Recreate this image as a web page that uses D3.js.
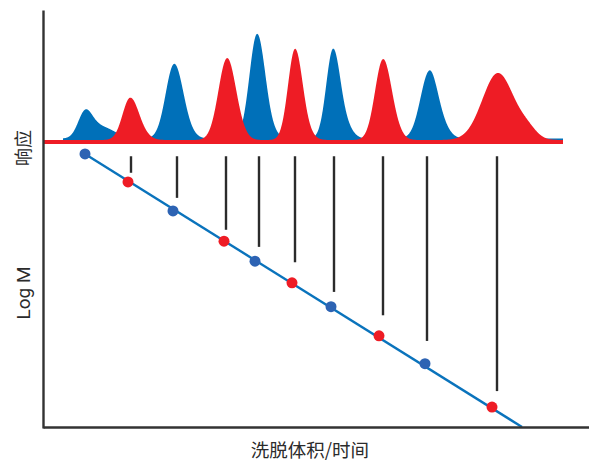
<!DOCTYPE html>
<html><head><meta charset="utf-8">
<script src="https://cdn.jsdelivr.net/npm/d3@7"></script>
<style>body{margin:0;background:#fff}svg{display:block}</style>
</head><body><svg id="c" width="589" height="461"></svg>
<script>
// Peak components: [centre (min), height, sigmaLeft, sigmaRight]
const blueComponents = [
  [2.10, 25, 0.35, 0.35], [2.85, 12, 0.50, 0.70],
  [6.55, 73, 0.42, 0.44], [7.15, 5, 0.40, 0.40],
  [10.70, 103, 0.38, 0.40], [11.30, 5, 0.40, 0.40],
  [14.50, 88, 0.34, 0.36], [15.15, 10, 0.35, 0.35],
  [19.30, 64, 0.44, 0.40], [19.90, 12, 0.40, 0.40]
];
const redComponents = [
  [4.35, 41, 0.38, 0.42], [4.95, 4, 0.40, 0.40],
  [9.20, 81, 0.43, 0.43], [9.85, 5, 0.35, 0.35],
  [12.60, 90, 0.35, 0.37], [13.20, 5, 0.35, 0.35],
  [17.00, 80, 0.40, 0.42], [17.65, 5, 0.35, 0.35],
  [22.75, 67, 0.78, 0.80], [24.25, 8, 0.45, 0.45]
];
const blueBaseline = 5.5, redBaseline = 4;
const blueSpan = [1.0, 26.0], redSpan = [0, 26.0];

// Calibration points
const calibX = [2.10, 4.25, 6.50, 9.05, 10.60, 12.45, 14.40, 16.80, 19.10, 22.45];
const calibLogM = [6.79, 6.30, 5.79, 5.26, 4.91, 4.53, 4.11, 3.60, 3.11, 2.35];
const calibSeries = ["b", "r", "b", "r", "b", "r", "b", "r", "b", "r"];
const calibLineX = [2.10, 23.95];
const calibLineLogM = [6.79, 2.0];

// Drop lines from peak apex positions
const dropX = [4.40, 6.70, 9.15, 10.80, 12.60, 14.55, 17.00, 19.20, 22.70];
const dropBottom = [6.46, 6.02, 5.46, 5.16, 4.89, 4.37, 3.96, 3.51, 2.63];
const dropTop = 6.75;

const xLabel = "洗脱体积/时间";
const yTopLabel = "响应";
const yBottomLabel = "Log M";

const colors = { b: "#0070b9", r: "#ee1c25", bDot: "#2d63b3", line: "#0a73bc", ink: "#2b2b2b" };

const svg = d3.select("#c");
const x = d3.scaleLinear().domain([0, 27.3]).range([43, 589]);
const yResp = d3.scaleLinear().domain([0, 134]).range([144, 10]);
const yLog = d3.scaleLinear().domain([2, 7]).range([427, 142]);
const yFrame = d3.scaleLinear().domain([0, 1]).range([428, 10]);

function trace(comps, base, span) {
  return d3.range(span[0], span[1] + 1e-9, 0.01).map(t => {
    let v = base;
    for (const [c, h, sl, sr] of comps) {
      const s = t < c ? sl : sr;
      v += h * Math.exp(-((t - c) ** 2) / (2 * s * s));
    }
    return [t, v];
  });
}
const area = d3.area().x(d => x(d[0])).y0(yResp(0)).y1(d => yResp(d[1])).curve(d3.curveLinear);

svg.append("path").attr("d", area(trace(blueComponents, blueBaseline, blueSpan))).attr("fill", colors.b);
svg.append("path").attr("d", area(trace(redComponents, redBaseline, redSpan))).attr("fill", colors.r);

// drop lines
svg.append("g").selectAll("line").data(dropX).join("line")
  .attr("x1", d => x(d)).attr("x2", d => x(d))
  .attr("y1", yLog(dropTop)).attr("y2", (d, i) => yLog(dropBottom[i]))
  .attr("stroke", colors.ink).attr("stroke-width", 2.4);

// calibration line
svg.append("path")
  .attr("d", d3.line().x(d => x(d[0])).y(d => yLog(d[1]))(calibLineX.map((v, i) => [v, calibLineLogM[i]])))
  .attr("stroke", colors.line).attr("stroke-width", 2.4).attr("fill", "none");

svg.append("g").selectAll("circle").data(calibX).join("circle")
  .attr("cx", d => x(d)).attr("cy", (d, i) => yLog(calibLogM[i])).attr("r", 5.5)
  .attr("fill", (d, i) => calibSeries[i] === "b" ? colors.bDot : colors.r);

// axes
svg.append("g").attr("transform", "translate(43,0)")
  .call(d3.axisLeft(yFrame).ticks(0).tickSizeOuter(0));
svg.append("g").attr("transform", "translate(0,427)")
  .call(d3.axisBottom(x).ticks(0).tickSizeOuter(0));
svg.selectAll(".domain").attr("stroke", "#333").attr("stroke-width", 2.4);

// labels
svg.append("text").text(yTopLabel)
  .attr("transform", "translate(22,148) rotate(-90)")
  .attr("text-anchor", "middle").attr("dominant-baseline", "central")
  .attr("font-family", "Noto Sans CJK SC").attr("font-size", 18).attr("fill", colors.ink);
svg.append("text").text(yBottomLabel)
  .attr("transform", "translate(29.5,293) rotate(-90)")
  .attr("text-anchor", "middle")
  .attr("font-family", "Roboto").attr("font-size", 19).attr("fill", colors.ink);
svg.append("text").text(xLabel)
  .attr("x", 310).attr("y", 449)
  .attr("text-anchor", "middle").attr("dominant-baseline", "central")
  .attr("font-family", "Noto Sans CJK SC").attr("font-size", 18.5).attr("fill", colors.ink);
</script></body></html>
